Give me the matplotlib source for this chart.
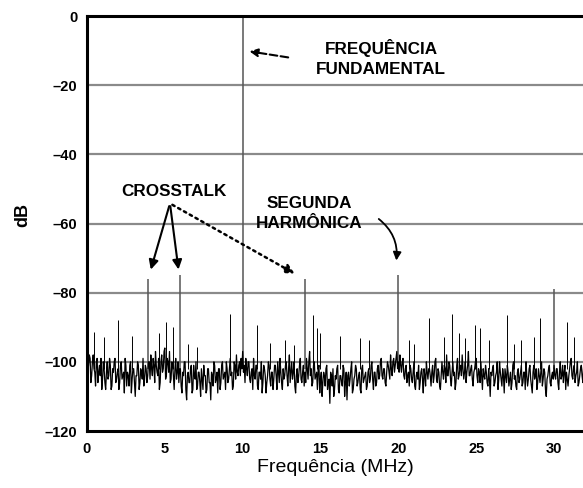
import numpy as np
import matplotlib.pyplot as plt

# noise floor in dB, sampled every 0.05 MHz: noise_db holds the even samples
# (0.0, 0.1, ...) and noise_db_mid the odd ones (0.05, 0.15, ...)
freq_step = 0.1
noise_db = [
    -96, -101, -99, -104, -98, -103, -100, -106, -101, -99, -105, -102, -108, -100, -104, -101, -107, -103, -99, -105,
    -102, -106, -100, -104, -109, -101, -103, -107, -100, -105, -102, -110, -104, -101, -106, -103, -99, -105, -102, -104,
    -100, -98, -104, -101, -97, -103, -99, -106, -98, -102, -96, -104, -100, -97, -105, -101, -108, -99, -103, -106,
    -102, -109, -104, -100, -111, -103, -106, -101, -108, -104, -100, -107, -103, -110, -105, -101, -104, -108, -102, -106,
    -103, -107, -101, -105, -109, -102, -106, -100, -104, -108, -102, -105, -99, -103, -107, -101, -98, -104, -100, -99,
    -97, -101, -99, -104, -100, -106, -102, -99, -105, -101, -108, -103, -100, -106, -102, -109, -104, -101, -107, -103,
    -105, -101, -108, -103, -99, -106, -102, -104, -100, -107, -98, -103, -105, -100, -109, -102, -104, -99, -106, -101,
    -103, -99, -105, -97, -102, -106, -100, -104, -108, -101, -105, -110, -103, -107, -101, -106, -112, -104, -102, -108,
    -105, -101, -109, -104, -107, -102, -106, -111, -103, -105, -100, -108, -104, -102, -106, -103, -109, -101, -105, -103,
    -107, -102, -105, -100, -108, -103, -106, -101, -104, -99, -105, -102, -107, -100, -103, -98, -104, -99, -101, -97,
    -100, -98, -103, -99, -105, -101, -104, -107, -102, -106, -100, -108, -103, -101, -106, -102, -109, -104, -100, -105,
    -102, -107, -101, -104, -99, -106, -103, -108, -100, -105, -102, -98, -104, -101, -107, -100, -103, -106, -99, -104,
    -101, -98, -105, -100, -103, -97, -104, -101, -107, -102, -99, -106, -103, -100, -108, -104, -101, -106, -102, -110,
    -104, -101, -106, -103, -108, -100, -105, -102, -109, -104, -101, -107, -103, -106, -100, -104, -108, -102, -105, -101,
    -106, -103, -100, -107, -102, -105, -109, -101, -104, -108, -102, -106, -100, -105, -103, -110, -104, -101, -107, -103,
    -101, -105, -102, -108, -100, -104, -106, -101, -103, -107, -102, -99, -105, -101, -104, -100, -106, -102, -104, -101,
]
noise_db_mid = [
    -103, -98, -106, -100, -102, -107, -99, -103, -104, -108, -100, -106, -103, -105, -99, -108, -102, -100, -106, -103,
    -108, -101, -105, -103, -99, -107, -104, -101, -109, -102, -106, -104, -100, -108, -102, -105, -107, -101, -106, -100,
    -105, -102, -99, -106, -101, -104, -108, -100, -103, -97, -105, -99, -103, -106, -100, -104, -102, -105, -100, -102,
    -107, -103, -100, -108, -104, -106, -102, -109, -101, -105, -108, -103, -106, -102, -108, -104, -109, -102, -106, -111,
    -104, -100, -106, -103, -102, -108, -101, -105, -103, -100, -106, -102, -104, -108, -100, -105, -103, -101, -104, -102,
    -103, -106, -102, -100, -105, -103, -108, -104, -101, -107, -103, -105, -109, -101, -104, -106, -100, -105, -103, -108,
    -101, -104, -100, -106, -103, -108, -105, -101, -104, -102, -106, -100, -103, -107, -104, -106, -101, -105, -103, -107,
    -106, -102, -100, -104, -107, -101, -105, -103, -102, -109, -103, -106, -104, -102, -108, -105, -103, -107, -110, -104,
    -102, -108, -104, -106, -101, -110, -103, -104, -107, -102, -109, -105, -101, -107, -104, -108, -102, -106, -104, -108,
    -103, -106, -101, -105, -103, -107, -102, -105, -100, -104, -102, -106, -103, -101, -105, -102, -100, -103, -99, -102,
    -103, -101, -100, -104, -102, -106, -103, -101, -105, -103, -107, -104, -105, -108, -103, -105, -102, -107, -103, -102,
    -104, -103, -106, -100, -105, -102, -107, -104, -103, -101, -106, -104, -100, -105, -103, -104, -108, -101, -105, -102,
    -104, -102, -103, -106, -101, -104, -102, -105, -103, -100, -104, -102, -106, -104, -102, -105, -103, -107, -105, -103,
    -102, -107, -104, -100, -105, -103, -107, -104, -102, -106, -103, -105, -108, -101, -105, -107, -103, -106, -103, -107,
    -103, -108, -104, -105, -101, -107, -103, -105, -102, -106, -104, -103, -107, -102, -108, -105, -102, -106, -104, -105,
    -104, -102, -106, -103, -105, -101, -103, -108, -105, -104, -100, -104, -102, -106, -103, -107, -104, -101, -106, -103,
]

# small spurs sticking out of the floor
spur_mhz = [0.45, 1.1, 1.97, 2.9, 4.65, 5.08, 5.55, 6.48, 7.05, 9.2, 10.9, 11.77, 12.73, 13.27,
            14.5, 14.77, 14.98, 16.27, 17.56, 18.1, 20.66, 21.0, 21.95, 22.9, 23.45, 23.88, 24.3,
            24.95, 25.27, 25.8, 26.98, 27.4, 27.85, 28.7, 29.13, 30.85, 31.28]
spur_db = [-91.3, -92.9, -87.9, -92.5, -91.8, -88.4, -89.8, -94.7, -95.6, -86.2, -89.4, -94.5, -93.6, -95.0,
           -86.5, -90.3, -91.8, -92.5, -93.2, -93.7, -93.7, -94.7, -87.4, -92.7, -86.3, -91.8, -93.2,
           -89.4, -90.3, -93.7, -86.5, -94.7, -93.7, -92.7, -87.4, -88.4, -92.7]

# fundamental, crosstalk and harmonic tones
tone_mhz = [3.9, 6.0, 10.0, 14.0, 20.0, 30.0]
tone_db = [-76, -75, 0, -76, -75, -79]
floor_db = -102

xticks = [0, 5, 10, 15, 20, 25, 30]
yticks = [0, -20, -40, -60, -80, -100, -120]
ytick_labels = ['0', '\u201320', '\u201340', '\u201360', '\u201380', '\u2013100', '\u2013120']

plt.rcParams['font.family'] = ['Liberation Sans', 'DejaVu Sans']

fig = plt.figure(figsize=(5.83, 4.88), dpi=100)
ax = fig.add_axes([0.1492, 0.1168, 0.8508, 0.8504])

# interleave the two sample sets into one trace
noise = np.empty(2 * len(noise_db))
noise[0::2] = noise_db
noise[1::2] = noise_db_mid
freqs = np.arange(len(noise)) * freq_step / 2

for y in [-20, -40, -60, -80, -100]:
    ax.axhline(y, color='#8a8a8a', lw=1.6, zorder=1)

ax.plot(freqs, noise, color='black', lw=0.9, zorder=3)
ax.vlines(spur_mhz, floor_db, spur_db, color='black', lw=0.7, zorder=3)
ax.vlines(tone_mhz, floor_db, tone_db, color='#555555', lw=1.1, zorder=2)

ax.set_xlim(0, 31.86)
ax.set_ylim(-120, 0)
ax.set_xticks(xticks)
ax.set_xticklabels([str(t) for t in xticks], fontsize=10.5, fontweight='bold')
ax.set_yticks(yticks)
ax.set_yticklabels(ytick_labels, fontsize=10.5, fontweight='bold')
ax.tick_params(length=0)
ax.tick_params(axis='y', pad=7)
ax.tick_params(axis='x', pad=8)
for side in ['left', 'top', 'bottom']:
    ax.spines[side].set_linewidth(2.2)
ax.spines['right'].set_visible(False)

ax.set_xlabel('Frequência (MHz)', fontsize=14, labelpad=2)
ax.set_ylabel('dB', fontsize=13, fontweight='bold')
ax.yaxis.set_label_coords(-0.113, 0.52)

txt = dict(fontsize=12.3, fontweight='bold', ha='center', va='center', linespacing=1.45)
ax.text(18.9, -12.2, 'FREQUÊNCIA\nFUNDAMENTAL', **txt)
ax.text(5.59, -50.7, 'CROSSTALK', **txt)
ax.text(14.3, -57.1, 'SEGUNDA\nHARMÔNICA', **txt)

# arrows
ax.annotate('', xy=(10.26, -10.1), xytext=(13.1, -12.1),
            arrowprops=dict(arrowstyle='-|>', lw=1.5, ls='--', color='black', mutation_scale=12))
for tip in [(4.05, -74.1), (5.9, -74.1)]:
    ax.annotate('', xy=tip, xytext=(5.33, -54.2),
                arrowprops=dict(arrowstyle='-|>', lw=1.5, color='black', mutation_scale=14))
ax.annotate('', xy=(13.5, -74.9), xytext=(5.33, -54.2),
            arrowprops=dict(arrowstyle='-|>', lw=1.8, ls=':', color='black', mutation_scale=14))
ax.annotate('', xy=(19.85, -71.5), xytext=(18.6, -58.2),
            arrowprops=dict(arrowstyle='-|>', lw=1.3, color='black', mutation_scale=12,
                            connectionstyle='arc3,rad=-0.3'))

fig.savefig('out.png', dpi=100)
